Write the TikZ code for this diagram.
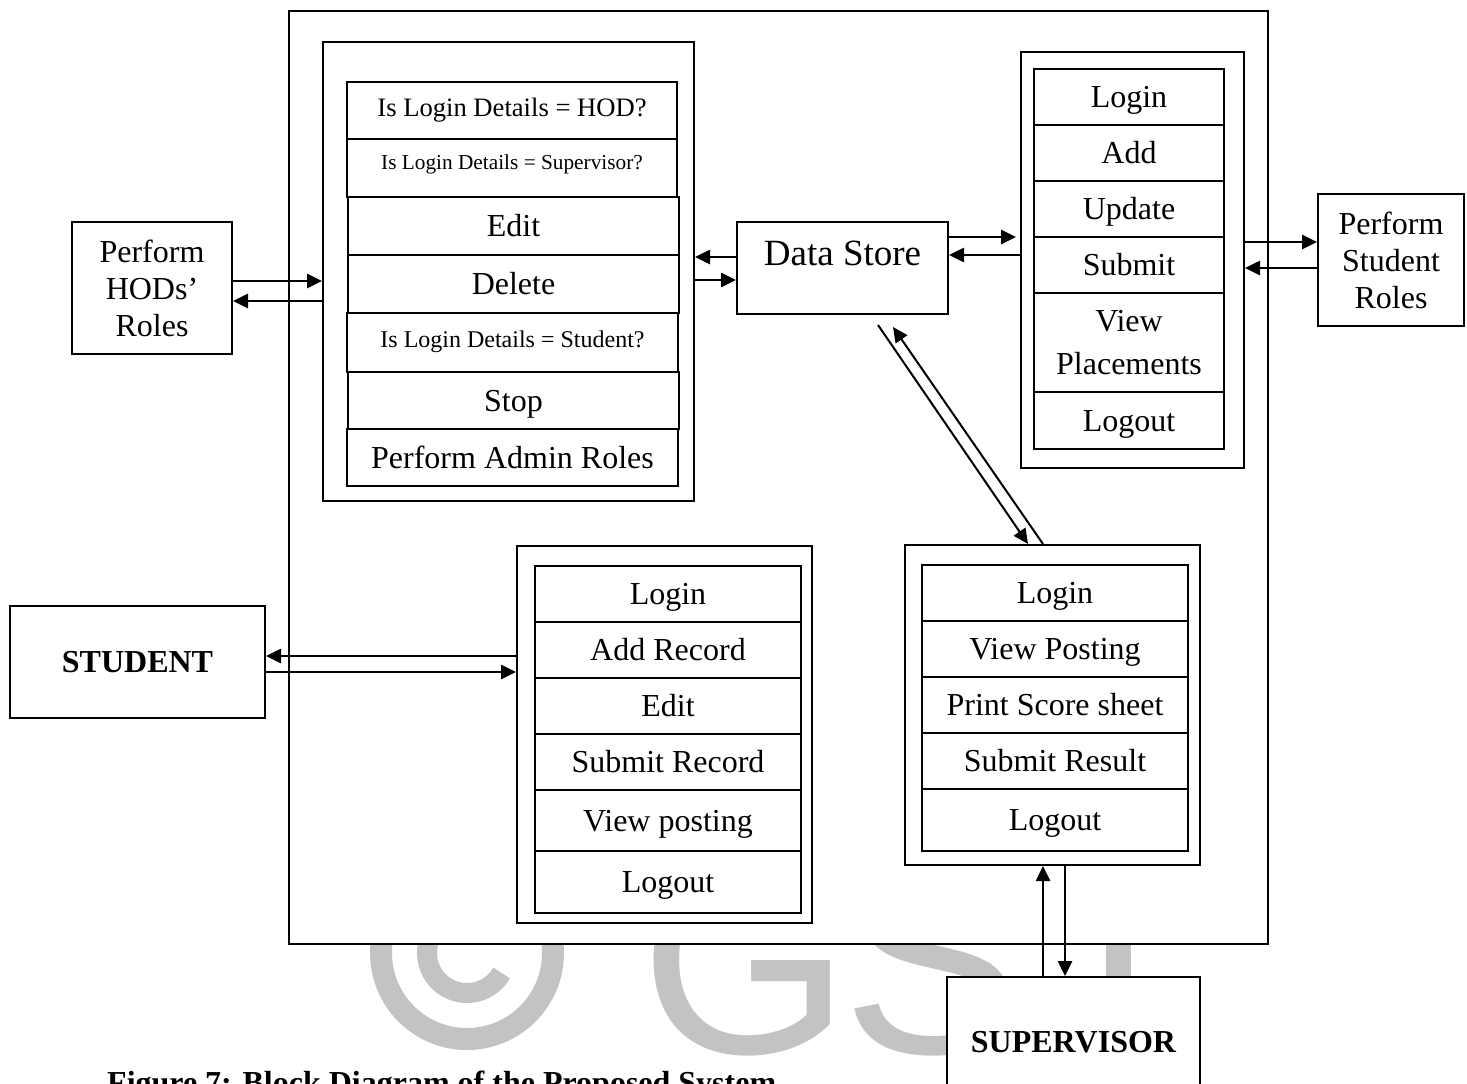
\documentclass[tikz,border=0pt]{standalone}
\usepackage{fontspec}
\setmainfont{Liberation Serif}
\newfontfamily\wmfont{Liberation Sans}
\usetikzlibrary{arrows.meta}
\definecolor{wmgray}{RGB}{195,195,195}

\tikzset{
  box/.style={draw, line width=2pt, rectangle, inner sep=0pt, anchor=north west, fill=white},
  cell/.style={box, font=\fontsize{32}{37}\selectfont, text height=21pt, text depth=0pt},
  rolebox/.style={box, align=center, font=\fontsize{32}{37}\selectfont},
  actor/.style={box, font=\bfseries\fontsize{32}{37}\selectfont, text height=21pt},
  arr/.style={line width=2.6pt, -{Triangle[length=15pt,width=14pt]}},
  diag/.style={line width=2pt, -{Triangle[length=15pt,width=14pt]}},
}

\begin{document}
\begin{tikzpicture}[x=1pt, y=-1pt]
\useasboundingbox (0,0) rectangle (1467,1084);

% watermark behind the system box: copyright sign and letters
\draw[wmgray, line width=22pt] (467,953) circle[radius=86];
\draw[wmgray, line width=20pt] ([shift={(30:40)}]467,953) arc[start angle=30, end angle=330, radius=40];
\node[anchor=base west, inner sep=0pt, text=wmgray,
      font=\wmfont\fontsize{270}{270}\selectfont] (wm) at (640,1053) {G\kern-8pt S\kern-6pt J};

% system boundary
\node[box, minimum width=979pt, minimum height=933pt] (sys) at (288,10) {};

% admin block
\node[box, minimum width=371pt, minimum height=459pt] (admin) at (322,41) {};
\node[cell, font=\fontsize{26.6}{30}\selectfont, text height=17.6pt, text depth=6pt,
      minimum width=330pt, minimum height=57pt] (a1) at (346,81) {Is Login Details = HOD?};
\node[cell, font=\fontsize{21.3}{25}\selectfont, text height=14.1pt, text depth=11pt,
      minimum width=330pt, minimum height=58pt] (a2) at (346,138) {Is Login Details = Supervisor?};
\node[cell, minimum width=331pt, minimum height=58pt] (a3) at (347,196) {Edit};
\node[cell, minimum width=331pt, minimum height=58pt] (a4) at (347,254) {Delete};
\node[cell, font=\fontsize{24}{28}\selectfont, text height=15.9pt, text depth=5pt,
      minimum width=331pt, minimum height=59pt] (a5) at (346,312) {Is Login Details = Student?};
\node[cell, minimum width=331pt, minimum height=57pt] (a6) at (347,371) {Stop};
\node[cell, minimum width=331pt, minimum height=57pt] (a7) at (346,428) {Perform Admin Roles};

% data store
\node[box, font=\fontsize{37}{42}\selectfont, text height=24.5pt, text depth=29pt,
      minimum width=211pt, minimum height=92pt] (ds) at (736,221) {Data Store};

% student roles block
\node[box, minimum width=223pt, minimum height=416pt] (rolegrp) at (1020,51) {};
\node[cell, minimum width=190pt, minimum height=56pt] (r1) at (1033,68) {Login};
\node[cell, minimum width=190pt, minimum height=56pt] (r2) at (1033,124) {Add};
\node[cell, minimum width=190pt, minimum height=56pt] (r3) at (1033,180) {Update};
\node[cell, minimum width=190pt, minimum height=56pt] (r4) at (1033,236) {Submit};
\node[box, align=center, font=\fontsize{32}{43}\selectfont,
      minimum width=190pt, minimum height=99pt] (r5) at (1033,292) {View\\Placements};
\node[cell, minimum width=190pt, minimum height=57pt] (r6) at (1033,391) {Logout};

% outside role boxes
\node[rolebox, minimum width=160pt, minimum height=132pt] (hod) at (71,221) {Perform\\HODs’\\Roles};
\node[rolebox, minimum width=146pt, minimum height=132pt] (sroles) at (1317,193) {Perform\\Student\\Roles};

% student block
\node[box, minimum width=295pt, minimum height=377pt] (stugrp) at (516,545) {};
\node[cell, minimum width=266pt, minimum height=56pt] (s1) at (534,565) {Login};
\node[cell, minimum width=266pt, minimum height=56pt] (s2) at (534,621) {Add Record};
\node[cell, minimum width=266pt, minimum height=56pt] (s3) at (534,677) {Edit};
\node[cell, minimum width=266pt, minimum height=56pt] (s4) at (534,733) {Submit Record};
\node[cell, minimum width=266pt, minimum height=61pt] (s5) at (534,789) {View posting};
\node[cell, minimum width=266pt, minimum height=62pt] (s6) at (534,850) {Logout};

% supervisor block
\node[box, minimum width=295pt, minimum height=320pt] (supgrp) at (904,544) {};
\node[cell, minimum width=266pt, minimum height=56pt] (p1) at (921,564) {Login};
\node[cell, minimum width=266pt, minimum height=56pt] (p2) at (921,620) {View Posting};
\node[cell, minimum width=266pt, minimum height=56pt] (p3) at (921,676) {Print Score sheet};
\node[cell, minimum width=266pt, minimum height=56pt] (p4) at (921,732) {Submit Result};
\node[cell, minimum width=266pt, minimum height=62pt] (p5) at (921,788) {Logout};

% actors
\node[actor, text depth=-12pt, minimum width=255pt, minimum height=112pt] (student) at (9,605) {STUDENT};
\node[actor, text depth=0pt, minimum width=253pt, minimum height=130pt] (supv) at (946,976) {SUPERVISOR};

% free ends of the diagonal links under the data store
\coordinate (dsA) at (878,325);
\coordinate (dsB) at (893,327);

% connectors
\draw[arr] (hod.east |- 0,281) -- (admin.west |- 0,281);
\draw[arr] (admin.west |- 0,301) -- (hod.east |- 0,301);

\draw[arr] (ds.west |- 0,257) -- (admin.east |- 0,257);
\draw[arr] (admin.east |- 0,280) -- (ds.west |- 0,280);

\draw[arr, shorten >=4pt] (ds.east |- 0,237) -- (rolegrp.west |- 0,237);
\draw[arr] (rolegrp.west |- 0,255) -- (ds.east |- 0,255);

\draw[arr] (rolegrp.east |- 0,242) -- (sroles.west |- 0,242);
\draw[arr] (sroles.west |- 0,268) -- (rolegrp.east |- 0,268);

\draw[arr] (stugrp.west |- 0,656) -- (student.east |- 0,656);
\draw[arr] (student.east |- 0,672) -- (stugrp.west |- 0,672);

\draw[diag] (dsA) -- (1028,545 |- supgrp.north);
\draw[diag] (1043,545 |- supgrp.north) -- (dsB);

\draw[arr] (1043,0 |- supv.north) -- (1043,0 |- supgrp.south);
\draw[arr] (1065,0 |- supgrp.south) -- (1065,0 |- supv.north);

% caption
\node[anchor=base west, inner sep=0pt, font=\bfseries\fontsize{32}{37}\selectfont] (cap) at (107,1093)
  {Figure 7: Block Diagram of the Proposed System};
\end{tikzpicture}
\end{document}
